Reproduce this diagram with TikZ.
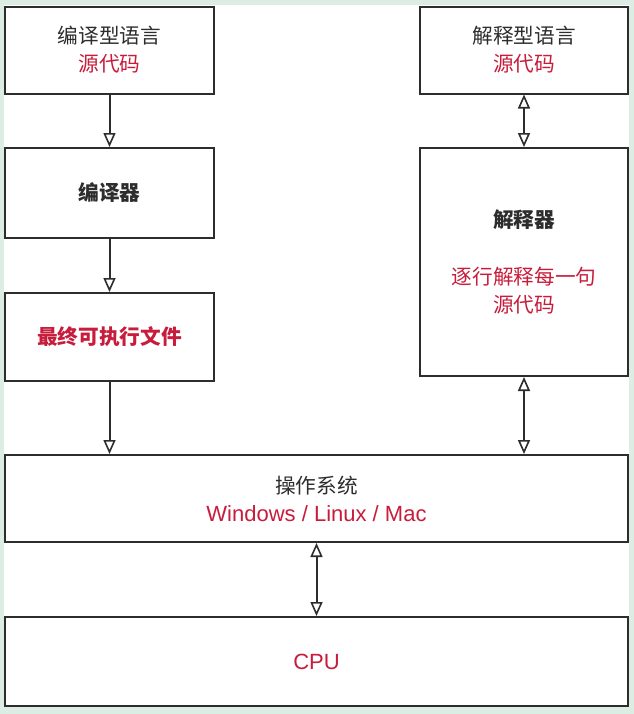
\documentclass[tikz,border=0pt]{standalone}
\usepackage{fontspec}
\setmainfont{Noto Sans CJK SC}
\newfontfamily\lat{Liberation Sans}
\usepackage{tikz}
\usetikzlibrary{arrows.meta, positioning}
\definecolor{hl}{RGB}{200,28,60}
\definecolor{ink}{RGB}{45,45,45}
\definecolor{mint}{RGB}{220,237,228}
\newcommand{\px}{0.75pt}

\begin{document}
\begin{tikzpicture}[x=0.75pt, y=-0.75pt, line width=1.5pt,
		box/.style={rectangle, draw=ink, fill=white, align=center, text=ink,
			font=\fontsize{15.5}{21}\selectfont, inner sep=0pt},
		tip/.style={-{Triangle[open, width=12*\px, length=14*\px, line width=1.2pt]}},
		both/.style={{Triangle[open, width=12*\px, length=14*\px, line width=1.2pt]}-{Triangle[open, width=12*\px, length=14*\px, line width=1.2pt]}}]
		% background
		\fill[mint] (0,0) rectangle (634,714);
		\fill[white] (4,5) rectangle (629,707);
		\useasboundingbox (0,0) rectangle (634,714);

		\node [box, minimum width=209*\px, minimum height=87*\px] (A) at (109.5,50) {编译型语言\\\textcolor{hl}{源代码}};
		\node [box, minimum width=209*\px, minimum height=90*\px] (B) at (109.5,193) {\bfseries 编译器};
		\node [box, minimum width=209*\px, minimum height=88*\px] (C) at (109.5,337) {\bfseries\textcolor{hl}{最终可执行文件}};
		\node [box, minimum width=208*\px, minimum height=87*\px] (D) at (524,50) {解释型语言\\\textcolor{hl}{源代码}};
		\node [box, minimum width=208*\px, minimum height=228*\px] (E) at (524,262) {\bfseries 解释器\\[22pt]\textcolor{hl}{逐行解释每一句}\\\textcolor{hl}{源代码}};
		\node [box, minimum width=623*\px, minimum height=87*\px] (F) at (316.5,498.5) {操作系统\\\textcolor{hl}{\lat\fontsize{16.5}{21}\selectfont Windows / Linux / Mac}};
		\node [box, minimum width=623*\px, minimum height=89*\px] (G) at (316.5,661.5) {\textcolor{hl}{\lat\fontsize{16.5}{21}\selectfont CPU}};

		\draw[tip, ink] (A) -- (B);
		\draw[tip, ink] (B) -- (C);
		\draw[tip, ink] (C.south) -- (C.south |- F.north);
		\draw[both, ink] (D) -- (E);
		\draw[both, ink] (E.south) -- (E.south |- F.north);
		\draw[both, ink] (F) -- (G);
\end{tikzpicture}
\end{document}
